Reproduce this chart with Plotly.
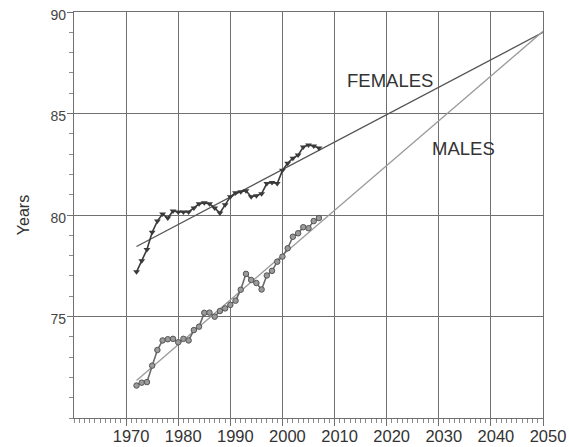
import plotly.graph_objects as go

# Life expectancy at birth, annual series
years = list(range(1972, 2008))
females = [77.2, 77.75, 78.3, 79.15, 79.7, 80.05, 79.85, 80.2, 80.15, 80.15,
           80.15, 80.35, 80.55, 80.6, 80.55, 80.35, 80.1, 80.5, 80.9, 81.1,
           81.15, 81.2, 80.9, 80.95, 81.05, 81.55, 81.6, 81.55, 82.2, 82.55,
           82.8, 82.95, 83.35, 83.45, 83.4, 83.3]
males = [71.6, 71.74, 71.77, 72.58, 73.35, 73.82, 73.88, 73.9, 73.73, 73.9,
         73.82, 74.33, 74.5, 75.18, 75.19, 74.99, 75.27, 75.4, 75.57, 75.78,
         76.32, 77.1, 76.8, 76.65, 76.33, 77.02, 77.25, 77.7, 77.95, 78.36,
         78.93, 79.1, 79.4, 79.35, 79.7, 79.85]

# Linear trend projections
trend_years = [1972, 2050]
female_trend = [78.45, 89.0]
male_trend = [71.85, 89.05]

x_ticks = [1970, 1980, 1990, 2000, 2010, 2020, 2030, 2040, 2050]
y_ticks = [75, 80, 85, 90]

FONT = "Liberation Sans, Arial, sans-serif"
GRID = "#707070"

fig = go.Figure()

fig.add_trace(go.Scatter(x=trend_years, y=female_trend, mode="lines",
                         line=dict(color="#555555", width=1.3),
                         hoverinfo="skip", showlegend=False))
fig.add_trace(go.Scatter(x=trend_years, y=male_trend, mode="lines",
                         line=dict(color="#9a9a9a", width=1.3),
                         hoverinfo="skip", showlegend=False))

fig.add_trace(go.Scatter(x=years, y=females, mode="lines+markers",
                         line=dict(color="#3a3a3a", width=1.6),
                         marker=dict(symbol="triangle-down", size=6,
                                     color="#3a3a3a"),
                         name="Females", showlegend=False))
fig.add_trace(go.Scatter(x=years, y=males, mode="lines+markers",
                         line=dict(color="#6a6a6a", width=1.6),
                         marker=dict(symbol="circle", size=5.5, color="#9a9a9a",
                                     line=dict(color="#555555", width=1)),
                         name="Males", showlegend=False))

fig.add_annotation(x=2020.6, y=86.65, text="FEMALES", showarrow=False,
                   font=dict(family=FONT, size=18.5, color="#333333"))
fig.add_annotation(x=2034.8, y=83.28, text="MALES", showarrow=False,
                   font=dict(family=FONT, size=18.5, color="#333333"))

fig.update_xaxes(
    range=[1960, 2050], tickmode="array", tickvals=x_ticks,
    ticktext=[str(v) for v in x_ticks],
    showgrid=True, gridcolor=GRID, gridwidth=1.4,
    showline=True, linecolor=GRID, linewidth=1.4, mirror=True,
    ticks="outside", ticklen=7, tickcolor=GRID, tickwidth=1.2,
    minor=dict(tickmode="linear", tick0=1960, dtick=1, ticks="outside",
               ticklen=4, tickcolor="#8a8a8a", tickwidth=1, showgrid=False),
    tickfont=dict(family=FONT, size=16.5, color="#333333"),
    ticklabelshift=5, ticklabelstandoff=-4,
    zeroline=False, fixedrange=True, automargin=False,
)
fig.update_yaxes(
    range=[70, 90], tickmode="array", tickvals=y_ticks,
    ticktext=[str(v) for v in y_ticks],
    showgrid=True, gridcolor=GRID, gridwidth=1.4,
    showline=True, linecolor=GRID, linewidth=1.4, mirror=True,
    ticks="outside", ticklen=6, tickcolor=GRID, tickwidth=1.2,
    minor=dict(tickmode="linear", tick0=70, dtick=1, ticks="outside",
               ticklen=4, tickcolor="#8a8a8a", tickwidth=1, showgrid=False),
    tickfont=dict(family=FONT, size=14, color="#444444"),
    ticklabelstandoff=-2, ticklabelshift=3,
    title=dict(text="Years", font=dict(family=FONT, size=16, color="#333333"),
               standoff=16),
    zeroline=False, fixedrange=True, automargin=False,
)

fig.update_layout(
    width=569, height=447,
    margin=dict(l=74, r=26, t=12, b=29),
    paper_bgcolor="white", plot_bgcolor="white",
    font=dict(family=FONT),
)

fig.write_html("out.html")
